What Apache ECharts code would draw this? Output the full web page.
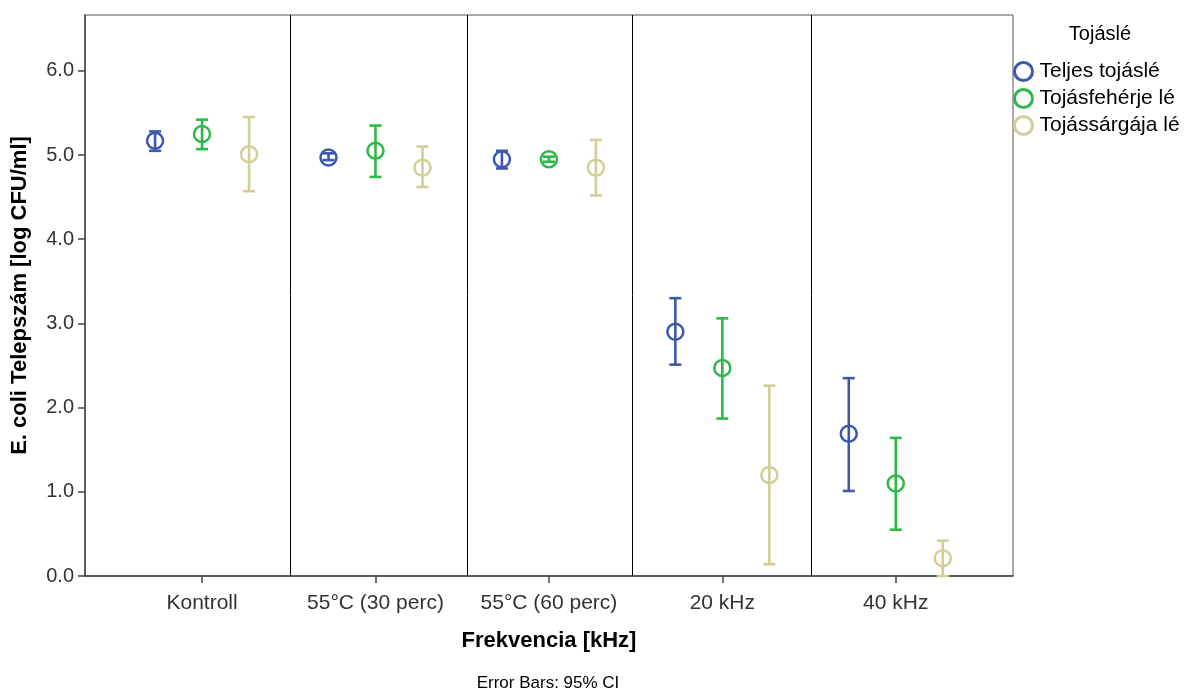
<!DOCTYPE html>
<html>
<head>
<meta charset="utf-8">
<title>E. coli telepszám</title>
<script src="https://cdn.jsdelivr.net/npm/echarts@6/dist/echarts.min.js"></script>
<style>
  html, body { margin: 0; padding: 0; background: #ffffff; }
  #chart { width: 1187px; height: 691px; }
</style>
</head>
<body>
<div id="chart"></div>
<script>
// Kezelések (x tengely kategóriái)
const categories = ['Kontroll', '55°C (30 perc)', '55°C (60 perc)', '20 kHz', '40 kHz'];
// Tojáslé típusok
const groups = ['Teljes tojáslé', 'Tojásfehérje lé', 'Tojássárgája lé'];

// Átlagok és 95% CI határok, log CFU/ml
const meanTeljes = [5.17, 4.97, 4.95, 2.90, 1.69];
const lowTeljes  = [5.05, 4.94, 4.84, 2.51, 1.01];
const highTeljes = [5.28, 5.02, 5.05, 3.30, 2.35];

const meanFeher = [5.25, 5.05, 4.95, 2.47, 1.10];
const lowFeher  = [5.07, 4.74, 4.92, 1.87, 0.55];
const highFeher = [5.42, 5.35, 4.98, 3.06, 1.64];

const meanSarga = [5.01, 4.85, 4.85, 1.20, 0.21];
const lowSarga  = [4.57, 4.62, 4.52, 0.14, 0.00];
const highSarga = [5.45, 5.10, 5.18, 2.26, 0.42];

// Kategóriák közötti elválasztó vonalak helye (x tengely egységeiben)
const dividers = [0.51, 1.526, 2.478, 3.511];

const colors = ['#3e58ac', '#2eb848', '#d3ce97'];
const groupOffset = [-0.271, 0, 0.271];

const means = [meanTeljes, meanFeher, meanSarga];
const lows = [lowTeljes, lowFeher, lowSarga];
const highs = [highTeljes, highFeher, highSarga];

const FONT = '"Liberation Sans", Arial, sans-serif';

// Hibasáv: függőleges vonal két vízszintes végzárral
function errorBarRenderer(params, api) {
  const x = api.value(0);
  const top = api.coord([x, api.value(2)]);
  const bot = api.coord([x, api.value(1)]);
  const half = 6;
  const style = { stroke: api.visual('color'), lineWidth: 2.6, fill: null };
  return {
    type: 'group',
    children: [
      { type: 'line', shape: { x1: top[0], y1: top[1], x2: bot[0], y2: bot[1] }, style },
      { type: 'line', shape: { x1: top[0] - half, y1: top[1], x2: top[0] + half, y2: top[1] }, style },
      { type: 'line', shape: { x1: bot[0] - half, y1: bot[1], x2: bot[0] + half, y2: bot[1] }, style }
    ]
  };
}

const series = [];
groups.forEach((name, g) => {
  series.push({
    name,
    type: 'scatter',
    symbol: 'circle',
    symbolSize: 16,
    z: 3,
    itemStyle: { color: 'rgba(255,255,255,0)', borderColor: colors[g], borderWidth: 2.5, opacity: 1 },
    data: categories.map((c, i) => [i + groupOffset[g], means[g][i]]),
    markLine: g === 0 ? {
      silent: true,
      symbol: 'none',
      label: { show: false },
      lineStyle: { color: '#000000', width: 1, type: 'solid' },
      data: dividers.map(v => ({ xAxis: v }))
    } : undefined
  });
  series.push({
    name,
    type: 'custom',
    z: 4,
    itemStyle: { color: colors[g] },
    renderItem: errorBarRenderer,
    encode: { x: 0, y: [1, 2] },
    data: categories.map((c, i) => [i + groupOffset[g], lows[g][i], highs[g][i]])
  });
});

const chart = echarts.init(document.getElementById('chart'), null, { renderer: 'canvas' });
chart.setOption({
  animation: false,
  backgroundColor: '#ffffff',
  color: colors,
  grid: {
    left: 85, right: 174, top: 15, bottom: 115,
    outerBoundsMode: 'none',
    containLabel: false,
    show: true, borderColor: '#555555', borderWidth: 1, backgroundColor: 'transparent'
  },
  xAxis: {
    type: 'value',
    min: -0.675,
    max: 4.676,
    name: 'Frekvencia [kHz]',
    nameLocation: 'middle',
    nameGap: 54,
    nameTextStyle: { fontFamily: FONT, fontSize: 22, fontWeight: 'bold', color: '#000' },
    axisLine: { show: true, onZero: false, lineStyle: { color: '#444', width: 1.5 } },
    axisTick: { show: true, customValues: [0, 1, 2, 3, 4], length: 7, lineStyle: { color: '#444', width: 1.5 } },
    axisLabel: {
      customValues: [0, 1, 2, 3, 4],
      formatter: v => categories[Math.round(v)] || '',
      fontFamily: FONT, fontSize: 21, color: '#333', margin: 17
    },
    splitLine: { show: false }
  },
  yAxis: {
    type: 'value',
    min: 0,
    max: 6.663,
    interval: 1,
    name: 'E. coli Telepszám [log CFU/ml]',
    nameLocation: 'middle',
    nameGap: 54,
    nameTextStyle: { fontFamily: FONT, fontSize: 22, fontWeight: 'bold', color: '#000' },
    axisLine: { show: true, onZero: false, lineStyle: { color: '#444', width: 1.5 } },
    axisTick: { show: true, length: 7, lineStyle: { color: '#444', width: 1.5 } },
    axisLabel: {
      formatter: v => v.toFixed(1),
      showMaxLabel: false,
      fontFamily: FONT, fontSize: 20, color: '#333', margin: 11
    },
    splitLine: { show: false }
  },
  legend: {
    orient: 'vertical',
    left: 1008,
    top: 56,
    itemWidth: 22,
    itemHeight: 18,
    itemGap: 6,
    symbolKeepAspect: true,
    data: groups.map(n => ({ name: n, icon: 'circle' })),
    itemStyle: { borderWidth: 3 },
    textStyle: { fontFamily: FONT, fontSize: 21, color: '#000' },
    selectedMode: false
  },
  graphic: [
    {
      type: 'text', x: 1100, y: 34,
      style: { text: 'Tojáslé', fontFamily: FONT, fontSize: 20, fill: '#000', align: 'center', verticalAlign: 'middle' }
    },
    {
      type: 'text', x: 548, y: 683,
      style: { text: 'Error Bars: 95% CI', fontFamily: FONT, fontSize: 17, fill: '#000', align: 'center', verticalAlign: 'middle' }
    }
  ],
  series
});
</script>
</body>
</html>
